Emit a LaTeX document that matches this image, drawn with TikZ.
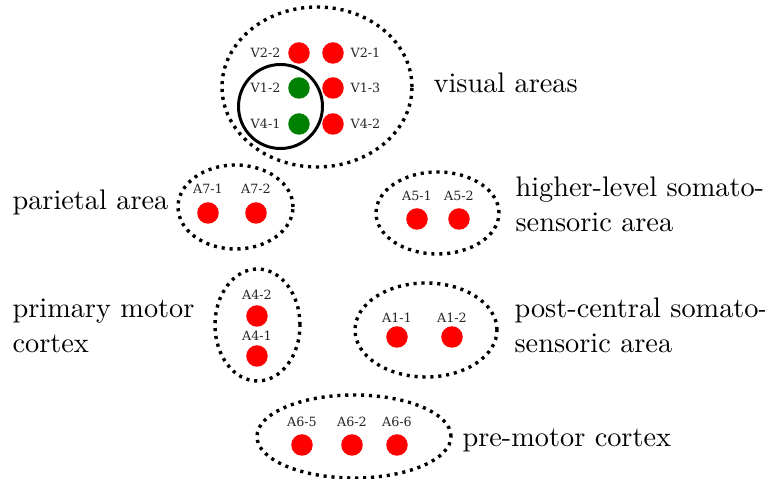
\documentclass[tikz,border=0pt]{standalone}
\usepackage{fontspec}
\newfontfamily\lblfont{DejaVu Serif}
\begin{document}
\begin{tikzpicture}[x=0.3534pt,y=-0.3534pt,
  grp/.style={line width=1.2pt,dash pattern=on 1.1pt off 1.7pt},
  reddot/.style={circle,fill=red,inner sep=0pt,minimum size=7.6pt},
  greendot/.style={circle,fill=green!50!black,inner sep=0pt,minimum size=7.6pt},
  lbl/.style={font=\lblfont\fontsize{4.5}{5}\selectfont,inner sep=0pt,text=black!85},
  big/.style={anchor=base west,inner sep=0pt}]
\useasboundingbox (0,0) rectangle (765,479);
% group outlines
\draw[grp] (317,87) ellipse [x radius=33.57pt,y radius=28.27pt];
\draw[grp] (235.5,207) ellipse [x radius=20.32pt,y radius=14.84pt];
\draw[grp] (437.5,213) ellipse [x radius=21.73pt,y radius=14.49pt];
\draw[grp] (257.5,325) ellipse [x radius=15.02pt,y radius=19.79pt];
\draw[grp] (426,330) ellipse [x radius=25.09pt,y radius=16.61pt];
\draw[grp] (354,436.5) ellipse [x radius=34.28pt,y radius=14.67pt];
\draw[line width=1.05pt] (280.5,106.5) circle [radius=14.84pt];
% visual area units
\node[reddot] (v22) at (299,53) {};
\node[reddot] (v21) at (333,53) {};
\node[greendot] (v12) at (299,88) {};
\node[reddot] (v13) at (333,88) {};
\node[greendot] (v41) at (299,124) {};
\node[reddot] (v42) at (333,124) {};
\node[lbl,anchor=east] (lv22) at (281,53) {V2-2};
\node[lbl,anchor=west] (lv21) at (350,53) {V2-1};
\node[lbl,anchor=east] (lv12) at (281,88) {V1-2};
\node[lbl,anchor=west] (lv13) at (350,88) {V1-3};
\node[lbl,anchor=east] (lv41) at (281,124) {V4-1};
\node[lbl,anchor=west] (lv42) at (350,124) {V4-2};
% parietal
\node[reddot] (a71) at (208,213) {};
\node[reddot] (a72) at (256,213) {};
\node[lbl] (la71) at (208,189) {A7-1};
\node[lbl] (la72) at (256,189) {A7-2};
% higher-level somatosensoric
\node[reddot] (a51) at (417,219) {};
\node[reddot] (a52) at (459,219) {};
\node[lbl] (la51) at (417,196) {A5-1};
\node[lbl] (la52) at (459,196) {A5-2};
% primary motor
\node[reddot] (a42) at (257,316) {};
\node[reddot] (a41) at (257,356) {};
\node[lbl] (la42) at (257,295) {A4-2};
\node[lbl] (la41) at (257,336) {A4-1};
% post-central
\node[reddot] (a11) at (397,337) {};
\node[reddot] (a12) at (452,337) {};
\node[lbl] (la11) at (397,318) {A1-1};
\node[lbl] (la12) at (452,318) {A1-2};
% pre-motor
\node[reddot] (a65) at (302,445) {};
\node[reddot] (a62) at (352,445) {};
\node[reddot] (a66) at (397,445) {};
\node[lbl] (la65) at (302,422) {A6-5};
\node[lbl] (la62) at (352,422) {A6-2};
\node[lbl] (la66) at (397,422) {A6-6};
% area names
\node[big] (tvis) at (433,92.5) {visual areas};
\node[big] (tpar) at (12,210) {parietal area};
\node[big] (thl1) at (515,197) {higher-level somato-};
\node[big] (thl2) at (515,232) {sensoric area};
\node[big] (tpm1) at (12,318) {primary motor};
\node[big] (tpm2) at (12,353) {cortex};
\node[big] (tpc1) at (514,318) {post-central somato-};
\node[big] (tpc2) at (514,353) {sensoric area};
\node[big] (tpre) at (462,447) {pre-motor cortex};
\end{tikzpicture}
\end{document}
